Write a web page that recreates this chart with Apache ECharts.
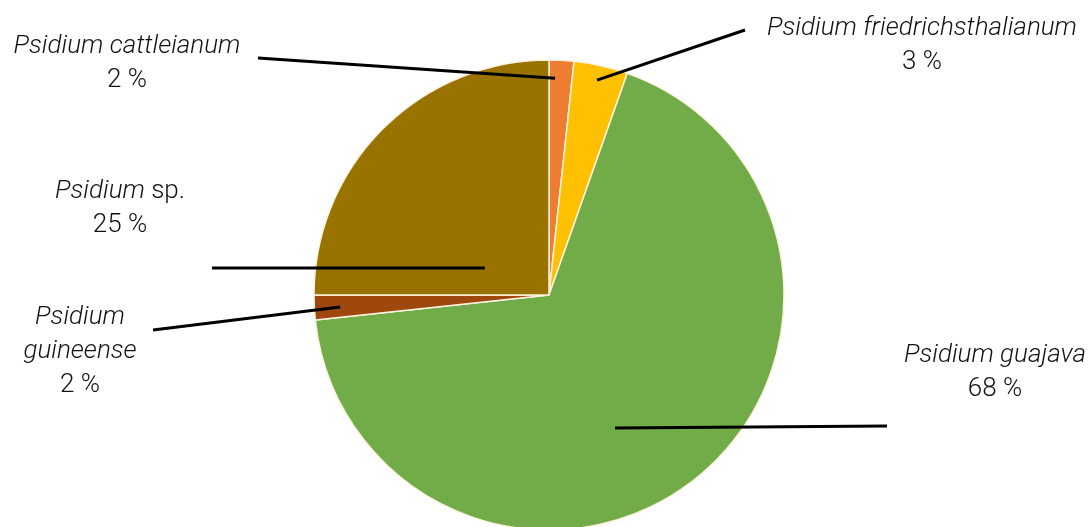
<!DOCTYPE html>
<html><head><meta charset="utf-8">
<script src="https://cdn.jsdelivr.net/npm/echarts@6/dist/echarts.min.js"></script>
<style>html,body{margin:0;padding:0;background:#fff}#c{width:1091px;height:527px}</style>
</head><body><div id="c"></div>
<script>
// ---- data ----
var genus = ['Psidium','Psidium','Psidium','Psidium','Psidium'];
var epithets = ['cattleianum','friedrichsthalianum','guajava','guineense','sp.'];
var values = [1.7, 3.7, 67.9, 1.7, 25.0];
var pctLabels = ['2 %','3 %','68 %','2 %','25 %'];
var colors = ['#ED7D31','#FFC000','#72AC48','#9E480E','#997300'];

// ---- layout (not data) ----
var CX = 549, CY = 295, R = 235;
// label placement: text centre, leader end, leader start (angle clockwise from top, radius fraction)
var labelPos = [
  {x:127, y:63,  end:[258,58],  start:[1.6,0.923]},
  {x:922, y:45,  end:[745,30],  start:[12.6,0.937]},
  {x:995, y:372, end:[887,426], start:[153.6,0.632]},
  {x:80,  y:351, end:[153,330], start:[266.7,0.89]},
  {x:120, y:208, end:[212,268], start:[292.9,0.296]}
];
function polar(a, f){
  var t = a*Math.PI/180;
  return [CX + Math.sin(t)*R*f, CY - Math.cos(t)*R*f];
}
var FS = 26, LH = 34, TXT = '#111';

var pieData = values.map(function(v,i){
  return {name: genus[i]+' '+epithets[i], value: v, itemStyle:{color: colors[i]}};
});
var labelData = values.map(function(v,i){
  var ital = (epithets[i] !== 'sp.');
  var txt;
  if (i === 3) txt = '{i|' + genus[i] + '}\n{i|' + epithets[i] + '}\n{n|' + pctLabels[i] + '}';
  else if (ital) txt = '{i|' + genus[i] + ' ' + epithets[i] + '}\n{n|' + pctLabels[i] + '}';
  else txt = '{i|' + genus[i] + '} {n|' + epithets[i] + '}\n{n|' + pctLabels[i] + '}';
  return {name: genus[i]+' '+epithets[i], value: v, label:{formatter: txt}};
});

var chart = echarts.init(document.getElementById('c'));
chart.setOption({
  animation:false,
  series:[{
    type:'pie', z:1,
    center:[CX, CY], radius:R, startAngle:90, clockwise:true,
    data:pieData,
    itemStyle:{borderColor:'#fbf3df', borderWidth:1.5},
    label:{show:false}, labelLine:{show:false}, emphasis:{disabled:true}
  },{
    type:'pie', z:5, silent:true,
    center:[CX, CY], radius:R, startAngle:90, clockwise:true,
    data:labelData,
    itemStyle:{color:'rgba(0,0,0,0)', borderWidth:0},
    label:{
      show:true, position:'outside',
      color:TXT, fontFamily:'Roboto', fontWeight:300, fontSize:FS, lineHeight:LH,
      align:'center',
      rich:{
        i:{fontStyle:'italic', fontFamily:'Roboto', fontWeight:300, fontSize:FS, lineHeight:LH, color:TXT},
        n:{fontFamily:'Roboto', fontWeight:300, fontSize:FS, lineHeight:LH, color:TXT}
      }
    },
    labelLine:{show:true, lineStyle:{color:'#000', width:3}},
    labelLayout:function(p){
      var L = labelPos[p.dataIndex];
      return {
        x:L.x, y:L.y, align:'center', verticalAlign:'middle',
        labelLinePoints:[polar(L.start[0], L.start[1]), L.end, L.end]
      };
    }
  }]
});
</script></body></html>
